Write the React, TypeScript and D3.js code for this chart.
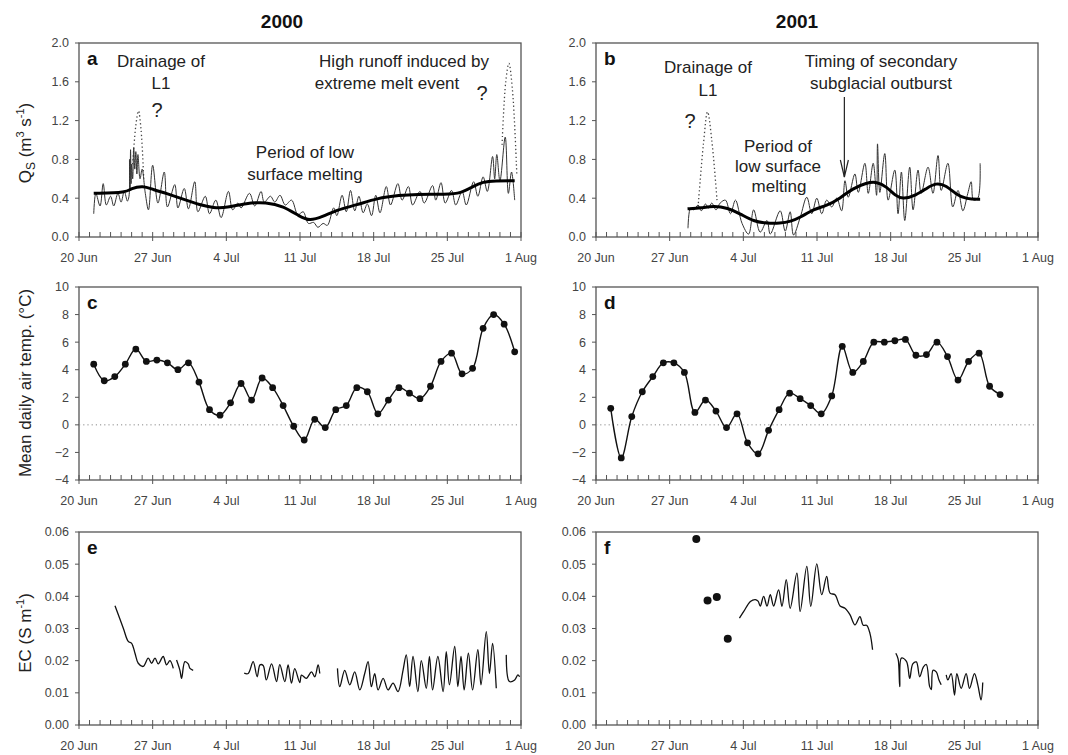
import * as d3 from 'd3';
import React, { useEffect, useRef } from 'react';

// x values are days after 20 June (0 = 20 Jun, 42 = 1 Aug)
const dateTicks = ['20 Jun', '27 Jun', '4 Jul', '11 Jul', '18 Jul', '25 Jul', '1 Aug'];
const qTicks = [0, 0.4, 0.8, 1.2, 1.6, 2.0];
const tempTicks = [-4, -2, 0, 2, 4, 6, 8, 10];
const ecTicks = [0, 0.01, 0.02, 0.03, 0.04, 0.05, 0.06];

// Q_S 2000, measured (thin), smoothed (thick) and interpolated peaks (dotted)
const qs2000: [number, number][] = [
  [1.4, 0.24], [1.6, 0.45], [2.0, 0.32], [2.3, 0.55], [2.6, 0.33], [3.0, 0.42], [3.3, 0.32], [3.7, 0.45],
  [4.0, 0.36], [4.3, 0.47], [4.6, 0.37], [4.75, 0.42], [4.8, 0.8], [4.85, 0.5], [4.9, 0.9], [4.95, 0.55],
  [5.0, 0.75], [5.1, 0.6], [5.2, 0.92], [5.3, 0.7], [5.4, 0.88], [5.5, 0.65], [5.6, 0.85], [5.8, 0.6],
  [6.0, 0.7], [6.3, 0.45], [6.6, 0.28], [7.0, 0.74], [7.5, 0.35], [8.1, 0.67], [8.4, 0.31], [9.1, 0.54],
  [9.4, 0.3], [10.0, 0.5], [10.4, 0.29], [11.0, 0.57], [11.3, 0.26], [12.0, 0.42], [12.4, 0.24], [13.0, 0.38],
  [13.5, 0.2], [14.2, 0.47], [14.6, 0.28], [15.1, 0.35], [15.4, 0.3], [16.2, 0.45], [16.7, 0.32], [17.3, 0.47],
  [17.6, 0.36], [18.2, 0.42], [18.6, 0.36], [19.1, 0.43], [19.6, 0.33], [20.2, 0.38], [20.8, 0.23], [21.3, 0.26],
  [21.8, 0.14], [22.3, 0.15], [22.7, 0.1], [23.2, 0.14], [23.6, 0.12], [24.2, 0.3], [24.5, 0.22], [25.0, 0.43],
  [25.4, 0.26], [25.8, 0.48], [26.2, 0.27], [26.6, 0.42], [27.0, 0.25], [27.4, 0.34], [27.8, 0.22], [28.2, 0.43],
  [28.6, 0.25], [29.2, 0.52], [29.6, 0.33], [30.3, 0.55], [30.7, 0.38], [31.3, 0.52], [31.7, 0.33], [32.4, 0.47],
  [32.8, 0.35], [33.6, 0.53], [33.9, 0.38], [34.4, 0.56], [34.8, 0.35], [35.4, 0.48], [35.8, 0.33], [36.4, 0.47],
  [36.8, 0.33], [37.5, 0.57], [37.9, 0.42], [38.4, 0.62], [38.8, 0.47], [39.3, 0.83], [39.5, 0.6], [39.7, 0.85],
  [40.0, 0.58], [40.5, 1.03], [40.8, 0.45], [41.1, 0.67], [41.4, 0.38],
];
const qs2000Smooth: [number, number][] = [
  [1.4, 0.45], [4.6, 0.46], [4.9, 0.5], [6.1, 0.53], [7, 0.49], [8.3, 0.45], [9.9, 0.39], [11.5, 0.33],
  [12.8, 0.3], [14, 0.3], [15.9, 0.35], [17.8, 0.36], [19.4, 0.32], [21, 0.21], [21.9, 0.165], [23.2, 0.21],
  [24.5, 0.28], [26.4, 0.33], [28.3, 0.4], [30.5, 0.43], [32, 0.44], [34.9, 0.44], [36.3, 0.45], [37.4, 0.52],
  [38.4, 0.57], [39.5, 0.58], [41.4, 0.58],
];
const qs2000PeakL1: [number, number][] = [[5.1, 0.75], [5.4, 1.15], [5.65, 1.3], [5.9, 1.1], [6.15, 0.6]];
const qs2000PeakMelt: [number, number][] = [[40.2, 0.95], [40.55, 1.6], [40.85, 1.79], [41.2, 1.5], [41.6, 0.65]];

// Q_S 2001
const qs2001: [number, number][] = [
  [8.74, 0.09], [8.99, 0.3], [9.3, 0.28], [9.7, 0.33], [10.0, 0.27], [10.4, 0.34], [10.7, 0.3], [11.0, 0.35],
  [11.4, 0.28], [11.8, 0.35], [12.3, 0.38], [12.78, 0.24], [13.25, 0.38], [13.88, 0.14], [14.5, 0.03], [14.98, 0.28],
  [15.6, 0.05], [16.25, 0.17], [16.56, 0.03], [17.5, 0.27], [17.98, 0.06], [18.45, 0.26], [18.77, 0.02], [19.4, 0.2],
  [20.03, 0.41], [20.5, 0.24], [20.98, 0.4], [21.45, 0.24], [21.92, 0.38], [22.4, 0.31], [22.87, 0.4], [23.34, 0.27],
  [23.66, 0.58], [23.97, 0.41], [24.6, 0.65], [24.92, 0.46], [25.55, 0.76], [25.87, 0.45], [26.34, 0.76], [26.66, 0.43],
  [26.75, 0.96], [26.97, 0.46], [27.44, 0.86], [27.76, 0.38], [28.39, 0.69], [28.7, 0.24], [29.02, 0.67], [29.34, 0.17],
  [29.81, 0.72], [30.13, 0.28], [30.6, 0.69], [30.9, 0.45], [31.55, 0.72], [32.02, 0.45], [32.5, 0.84], [32.8, 0.48],
  [33.44, 0.76], [33.9, 0.31], [34.4, 0.48], [34.86, 0.27], [35.33, 0.45], [35.65, 0.57], [35.87, 0.38], [36.28, 0.4],
  [36.5, 0.76],
];
const qs2001Smooth: [number, number][] = [
  [8.7, 0.29], [10, 0.3], [11.2, 0.32], [12.5, 0.3], [13.7, 0.24], [15, 0.16], [16.2, 0.14], [17.5, 0.14],
  [18.5, 0.16], [19.4, 0.2], [20.7, 0.29], [21.9, 0.32], [23.2, 0.4], [24.4, 0.5], [25.7, 0.56], [26.7, 0.57],
  [27.6, 0.52], [28.5, 0.42], [29.2, 0.39], [30.4, 0.43], [31.4, 0.5], [32.3, 0.56], [33.3, 0.53], [34.2, 0.44],
  [35.2, 0.39], [36.5, 0.39],
];
const qs2001PeakL1: [number, number][] = [[9.7, 0.31], [10.2, 0.95], [10.6, 1.29], [11.0, 1.0], [11.5, 0.38]];

// mean daily air temperature, one value per day from 21 June
const temp2000 = [
  4.4, 3.2, 3.5, 4.4, 5.5, 4.6, 4.7, 4.5, 4.0, 4.5, 3.1, 1.1, 0.7, 1.6, 3.0, 1.8, 3.4, 2.7, 1.4, -0.1, -1.1,
  0.4, -0.2, 1.1, 1.4, 2.7, 2.4, 0.8, 1.8, 2.7, 2.3, 1.9, 2.8, 4.6, 5.2, 3.7, 4.1, 7.0, 8.0, 7.3, 5.3,
];
const temp2001 = [
  1.2, -2.4, 0.6, 2.4, 3.5, 4.5, 4.5, 3.8, 0.9, 1.8, 1.0, -0.2, 0.8, -1.3, -2.1, -0.4, 1.1, 2.3, 1.9, 1.4,
  0.8, 2.1, 5.7, 3.8, 4.6, 6.0, 6.0, 6.1, 6.2, 5.05, 5.1, 6.0, 4.95, 3.25, 4.6, 5.2, 2.8, 2.2,
];

// electrical conductivity
const ec2000: [number, number][][] = [
  [[3.42, 0.0371], [4.21, 0.0301], [4.68, 0.026], [5.0, 0.0254], [5.32, 0.0223], [5.63, 0.0192], [6.1, 0.0182],
    [6.58, 0.0208], [6.9, 0.0192], [7.22, 0.0208], [7.53, 0.019], [8.0, 0.0213], [8.32, 0.0187], [8.64, 0.02], [8.96, 0.0176]],
  [[9.27, 0.0202], [9.59, 0.017], [9.75, 0.0145], [10.06, 0.0197], [10.38, 0.019], [10.54, 0.0176], [10.85, 0.017]],
  [[15.7, 0.0161], [16.08, 0.016], [16.55, 0.0197], [16.93, 0.015], [17.2, 0.0187], [17.5, 0.0185], [17.8, 0.014],
    [18.3, 0.019], [18.77, 0.0135], [19.08, 0.0188], [19.56, 0.0135], [19.87, 0.0187], [20.19, 0.013], [20.5, 0.0175],
    [20.98, 0.0132], [21.14, 0.0155], [21.6, 0.0145], [22.09, 0.0165], [22.4, 0.015], [22.72, 0.0187], [22.88, 0.016]],
  [[24.56, 0.0176], [24.78, 0.0119], [25.25, 0.017], [25.73, 0.0125], [26.2, 0.0165], [26.68, 0.0109], [27.15, 0.016],
    [27.47, 0.0197], [27.78, 0.0119], [28.1, 0.016], [28.42, 0.0109], [28.9, 0.0145], [29.37, 0.0109], [29.84, 0.013],
    [30.32, 0.0104], [30.79, 0.017], [31.1, 0.0218], [31.42, 0.0119], [31.74, 0.0213], [32.2, 0.0104], [32.53, 0.02],
    [33.0, 0.0114], [33.3, 0.0213], [33.6, 0.0109], [34.1, 0.0213], [34.6, 0.0104], [34.9, 0.0228], [35.2, 0.0125],
    [35.7, 0.0244], [36.0, 0.0119], [36.3, 0.0213], [36.6, 0.0109], [37.0, 0.0223], [37.4, 0.0109], [37.9, 0.0234],
    [38.2, 0.0125], [38.7, 0.029], [39.0, 0.016], [39.3, 0.0254], [39.65, 0.0114]],
  [[40.6, 0.0218], [40.9, 0.0135], [41.4, 0.014], [41.7, 0.0156], [41.87, 0.015]],
];
const ec2001Spot: [number, number][] = [[9.53, 0.0578], [10.6, 0.0387], [11.48, 0.0398], [12.52, 0.0268]];
const ec2001: [number, number][][] = [
  [[13.63, 0.0332], [14.04, 0.0353], [14.67, 0.0384], [15.14, 0.039], [15.4, 0.0385], [15.61, 0.037], [15.93, 0.04],
    [16.25, 0.037], [16.56, 0.0405], [16.88, 0.037], [17.35, 0.042], [17.67, 0.0369], [18.08, 0.0452], [18.45, 0.0363],
    [19.09, 0.0472], [19.4, 0.0353], [20.03, 0.0493], [20.41, 0.0369], [20.98, 0.0501], [21.45, 0.0405], [21.92, 0.0462],
    [22.24, 0.041], [22.71, 0.0405], [23.19, 0.037], [23.66, 0.0363], [24.13, 0.0343], [24.61, 0.0311], [25.08, 0.0337],
    [25.39, 0.031], [25.71, 0.031], [26.03, 0.0285], [26.28, 0.0234]],
  [[28.49, 0.0223], [28.71, 0.0205], [28.86, 0.0119], [29.02, 0.0208], [29.5, 0.0198], [29.81, 0.0145], [30.1, 0.019],
    [30.44, 0.0196], [30.76, 0.015], [31.1, 0.018], [31.39, 0.0188], [31.7, 0.012], [31.86, 0.011], [32.02, 0.017],
    [32.33, 0.0165], [32.59, 0.014], [32.8, 0.0125]],
  [[33.28, 0.0156], [33.44, 0.014], [33.75, 0.016], [34.07, 0.0093], [34.29, 0.016], [34.7, 0.0114], [35.17, 0.016],
    [35.49, 0.0114], [35.96, 0.016], [36.28, 0.0125], [36.59, 0.0078], [36.75, 0.0132]],
];

const FONT = '"Liberation Sans", Arial, sans-serif';
const PW = 442;

const App = () => {
  const ref = useRef<SVGSVGElement | null>(null);

  useEffect(() => {
    if (!ref.current) return;
    const svg = d3.select(ref.current);
    svg.selectAll('*').remove();
    svg.attr('font-family', FONT);

    const makePanel = (left: number, top: number, height: number, yDomain: [number, number], yTicks: number[], fmt: string, letter: string) => {
      const x = d3.scaleLinear().domain([0, 42]).range([left, left + PW]);
      const y = d3.scaleLinear().domain(yDomain).range([top + height, top]);
      const g = svg.append('g');
      const bottom = top + height;

      // y ticks
      yTicks.forEach((t) => {
        g.append('line').attr('x1', left - 4).attr('x2', left).attr('y1', y(t)).attr('y2', y(t))
          .attr('stroke', '#555').attr('stroke-width', 1);
        g.append('text').attr('x', left - 10).attr('y', y(t)).attr('dy', '0.35em')
          .attr('text-anchor', 'end').attr('font-size', 12.5).attr('fill', '#444')
          .text(d3.format(fmt)(t));
      });

      // x ticks: daily minor, weekly major
      d3.range(0, 43).forEach((d) => {
        const major = d % 7 === 0;
        g.append('line').attr('x1', x(d)).attr('x2', x(d))
          .attr('y1', bottom - 5).attr('y2', major ? bottom + 4 : bottom)
          .attr('stroke', '#555').attr('stroke-width', 1);
        if (major) {
          g.append('text').attr('x', x(d)).attr('y', bottom + 25).attr('text-anchor', 'middle')
            .attr('font-size', 12.5).attr('fill', '#444').text(dateTicks[d / 7]);
        }
      });

      g.append('rect').attr('x', left).attr('y', top).attr('width', PW).attr('height', height)
        .attr('fill', 'none').attr('stroke', '#555').attr('stroke-width', 1.3);

      g.append('text').attr('x', left + 8).attr('y', top + 22).attr('font-size', 19)
        .attr('font-weight', 'bold').attr('fill', '#111').text(letter);

      return { x, y, g };
    };

    const drawLine = (g, x, y, data: [number, number][], width: number, color: string, curve, dash?: string) => {
      const line = d3.line<[number, number]>().x((d) => x(d[0])).y((d) => y(d[1])).curve(curve);
      const p = g.append('path').attr('d', line(data)).attr('fill', 'none')
        .attr('stroke', color).attr('stroke-width', width).attr('stroke-linejoin', 'round');
      if (dash) p.attr('stroke-dasharray', dash);
    };

    const annotate = (lines: { t: string; x: number; y: number; size?: number; anchor?: string }[]) => {
      lines.forEach((l) => {
        svg.append('text').attr('x', l.x).attr('y', l.y).attr('text-anchor', l.anchor || 'middle')
          .attr('font-size', l.size || 17).attr('fill', '#222').text(l.t);
      });
    };

    const smooth = d3.curveCatmullRom.alpha(0.5);

    // titles
    svg.append('text').attr('x', 282).attr('y', 28).attr('text-anchor', 'middle').attr('font-size', 19)
      .attr('font-weight', 'bold').attr('fill', '#111').text('2000');
    svg.append('text').attr('x', 797).attr('y', 28).attr('text-anchor', 'middle').attr('font-size', 19)
      .attr('font-weight', 'bold').attr('fill', '#111').text('2001');

    // panel a
    const a = makePanel(79, 43, 194, [0, 2], qTicks, '.1f', 'a');
    drawLine(a.g, a.x, a.y, qs2000PeakL1, 1.3, '#444', smooth, '1.3,2.6');
    drawLine(a.g, a.x, a.y, qs2000PeakMelt, 1.3, '#444', smooth, '1.3,2.6');
    drawLine(a.g, a.x, a.y, qs2000, 1, '#333', smooth);
    drawLine(a.g, a.x, a.y, qs2000Smooth, 3, '#000', d3.curveBasis);

    // panel b
    const b = makePanel(596, 43, 194, [0, 2], qTicks, '.1f', 'b');
    drawLine(b.g, b.x, b.y, qs2001PeakL1, 1.3, '#444', smooth, '1.3,2.6');
    drawLine(b.g, b.x, b.y, qs2001, 1, '#333', smooth);
    drawLine(b.g, b.x, b.y, qs2001Smooth, 3, '#000', d3.curveBasis);

    // arrow for secondary outburst
    const arrowX = b.x(23.6);
    svg.append('line').attr('x1', arrowX).attr('x2', arrowX).attr('y1', 97).attr('y2', 177)
      .attr('stroke', '#222').attr('stroke-width', 1.2);
    svg.append('path').attr('d', `M${arrowX - 4},160 L${arrowX},177 L${arrowX + 4},160`)
      .attr('fill', 'none').attr('stroke', '#222').attr('stroke-width', 1.2);

    annotate([
      { t: 'Drainage of', x: 161, y: 67 },
      { t: 'L1', x: 161, y: 89 },
      { t: '?', x: 157, y: 117, size: 20 },
      { t: 'Period of low', x: 305, y: 158 },
      { t: 'surface melting', x: 305, y: 180 },
      { t: 'High runoff induced by', x: 404, y: 67 },
      { t: 'extreme melt event', x: 387, y: 89 },
      { t: '?', x: 482, y: 100, size: 20 },
      { t: 'Drainage of', x: 708, y: 73 },
      { t: 'L1', x: 708, y: 96 },
      { t: '?', x: 690, y: 128, size: 20 },
      { t: 'Timing of secondary', x: 881, y: 67 },
      { t: 'subglacial outburst', x: 881, y: 89 },
      { t: 'Period of', x: 778, y: 152 },
      { t: 'low surface', x: 778, y: 172 },
      { t: 'melting', x: 779, y: 192 },
    ]);

    // panels c and d
    const drawTemp = (p, vals: number[]) => {
      p.g.append('line').attr('x1', p.x(0)).attr('x2', p.x(42)).attr('y1', p.y(0)).attr('y2', p.y(0))
        .attr('stroke', '#888').attr('stroke-width', 1).attr('stroke-dasharray', '1.2,3');
      const pts: [number, number][] = vals.map((v, i) => [i + 1.4, v]);
      drawLine(p.g, p.x, p.y, pts, 1.4, '#111', d3.curveCatmullRom);
      p.g.selectAll('circle.t').data(pts).enter().append('circle')
        .attr('cx', (d) => p.x(d[0])).attr('cy', (d) => p.y(d[1])).attr('r', 3.4).attr('fill', '#111');
    };
    const c = makePanel(79, 287, 193, [-4, 10], tempTicks, 'd', 'c');
    drawTemp(c, temp2000);
    const dP = makePanel(596, 287, 193, [-4, 10], tempTicks, 'd', 'd');
    drawTemp(dP, temp2001);

    // panels e and f
    const e = makePanel(79, 532, 193, [0, 0.06], ecTicks, '.2f', 'e');
    ec2000.forEach((seg) => drawLine(e.g, e.x, e.y, seg, 1.3, '#111', smooth));
    const f = makePanel(596, 532, 193, [0, 0.06], ecTicks, '.2f', 'f');
    ec2001.forEach((seg) => drawLine(f.g, f.x, f.y, seg, 1.3, '#111', smooth));
    f.g.selectAll('circle.s').data(ec2001Spot).enter().append('circle')
      .attr('cx', (d) => f.x(d[0])).attr('cy', (d) => f.y(d[1])).attr('r', 4).attr('fill', '#111');

    // y axis titles
    const qLabel = svg.append('text').attr('transform', 'translate(31,143) rotate(-90)')
      .attr('text-anchor', 'middle').attr('font-size', 17).attr('fill', '#222');
    qLabel.append('tspan').text('Q');
    qLabel.append('tspan').attr('dy', 4).attr('font-size', 12).text('S');
    qLabel.append('tspan').attr('dy', -4).text(' (m');
    qLabel.append('tspan').attr('dy', -7).attr('font-size', 11).text('3');
    qLabel.append('tspan').attr('dy', 7).text(' s');
    qLabel.append('tspan').attr('dy', -7).attr('font-size', 11).text('-1');
    qLabel.append('tspan').attr('dy', 7).text(')');

    svg.append('text').attr('transform', 'translate(31,383) rotate(-90)')
      .attr('text-anchor', 'middle').attr('font-size', 17).attr('fill', '#222')
      .text('Mean daily air temp. (°C)');

    const ecLabel = svg.append('text').attr('transform', 'translate(31,633) rotate(-90)')
      .attr('text-anchor', 'middle').attr('font-size', 17).attr('fill', '#222');
    ecLabel.append('tspan').text('EC (S m');
    ecLabel.append('tspan').attr('dy', -7).attr('font-size', 11).text('-1');
    ecLabel.append('tspan').attr('dy', 7).text(')');
  }, []);

  return (
    <svg
      ref={ref}
      width={1068}
      height={755}
      style={{ position: 'absolute', left: 0, top: 0, background: '#fff' }}
    />
  );
};

export default App;
